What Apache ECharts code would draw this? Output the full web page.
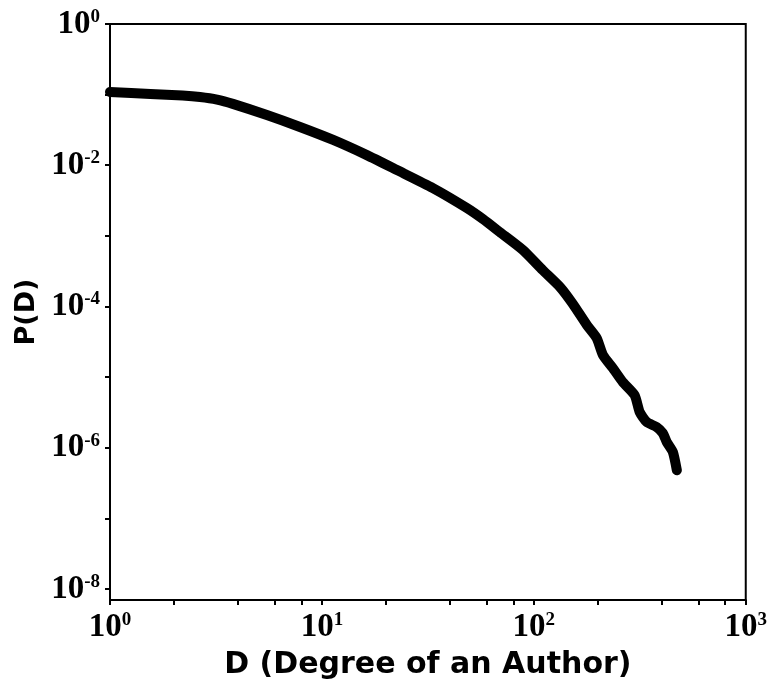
<!DOCTYPE html>
<html><head><meta charset="utf-8">
<script src="https://cdn.jsdelivr.net/npm/echarts@6/dist/echarts.min.js"></script>
<style>html,body{margin:0;padding:0;background:#fff}#c{width:770px;height:685px}</style>
</head><body><div id="c"></div>
<script>
// Degree D (x) and probability P(D) (y)
const degree = [1, 1.55, 2.2, 2.66, 3.2, 3.80, 5.50, 7.88, 11.3, 16.3, 22.6, 33.4, 48.3, 57.5, 69.1, 88.8,
  110, 133, 153, 178, 198, 212, 236, 263, 299, 316, 341, 380, 406, 424, 453, 473];
const prob = [0.109, 0.102, 0.097, 0.0925, 0.085, 0.074, 0.0514, 0.0348, 0.0228, 0.0139, 0.00855, 0.00475,
  0.00248, 0.00173, 0.00113, 0.00063, 0.000328, 0.000188, 0.000108, 5.45e-5, 3.57e-5, 2.05e-5,
  1.34e-5, 8.5e-6, 5.56e-6, 3.19e-6, 2.31e-6, 1.96e-6, 1.61e-6, 1.20e-6, 8.7e-7, 4.8e-7];

const xTickValues = [1, 2, 4, 6, 8, 10, 20, 40, 60, 80, 100, 200, 400, 600, 800, 1000];
const xLabelValues = [1, 10, 100, 1000];
const yTickValues = [1, 1e-1, 1e-2, 1e-3, 1e-4, 1e-5, 1e-6, 1e-7, 1e-8];
const yLabelValues = [1, 1e-2, 1e-4, 1e-6, 1e-8];
const xMin = 1, xMax = 1000;
const yMin = Math.pow(10, -8.156), yMax = 1;
const xTitle = 'D (Degree of an Author)';
const yTitle = 'P(D)';

const chart = echarts.init(document.getElementById('c'), null, {renderer: 'canvas'});
const powLabel = v => {
  const e = Math.round(Math.log10(v));
  if (Math.abs(Math.log10(v) - e) > 1e-6) return '';
  return '{b|10}{s|' + (e < 0 ? '-' + (-e) : e) + '}';
};
const rich = {
  b: {fontFamily: 'Liberation Serif', fontWeight: 'bold', fontSize: 33, color: '#000'},
  s: {fontFamily: 'Liberation Serif', fontWeight: 'bold', fontSize: 19, color: '#000', verticalAlign: 'top'}
};
chart.setOption({
  animation: false,
  backgroundColor: '#fff',
  grid: {left: 110, right: 24, top: 24, bottom: 85, show: true, borderColor: '#000', borderWidth: 2, backgroundColor: 'transparent'},
  xAxis: {
    type: 'log', min: xMin, max: xMax, logBase: 10,
    name: xTitle, nameLocation: 'middle', nameGap: 50,
    nameTextStyle: {fontFamily: 'DejaVu Sans', fontWeight: 'bold', fontSize: 30, color: '#000'},
    axisLine: {show: true, lineStyle: {color: '#000', width: 2}},
    axisTick: {show: true, inside: false, length: 5, customValues: xTickValues, lineStyle: {color: '#000', width: 2}},
    axisLabel: {margin: 11, customValues: xLabelValues, formatter: powLabel, rich: rich},
    splitLine: {show: false}, minorTick: {show: false}
  },
  yAxis: {
    type: 'log', min: yMin, max: yMax, logBase: 10,
    name: yTitle, nameLocation: 'middle', nameGap: 70,
    nameTextStyle: {fontFamily: 'DejaVu Sans', fontWeight: 'bold', fontSize: 27, color: '#000'},
    axisLine: {show: true, lineStyle: {color: '#000', width: 2}},
    axisTick: {show: true, inside: false, length: 5, customValues: yTickValues, lineStyle: {color: '#000', width: 2}},
    axisLabel: {margin: 10, customValues: yLabelValues, formatter: powLabel, rich: rich},
    splitLine: {show: false}, minorTick: {show: false}
  },
  series: [{
    type: 'line',
    data: degree.map((d, i) => [d, prob[i]]),
    showSymbol: false, symbol: 'none', smooth: 0.2,
    lineStyle: {color: '#000', width: 10, cap: 'round', join: 'round'},
    clip: true
  }]
});
</script></body></html>
